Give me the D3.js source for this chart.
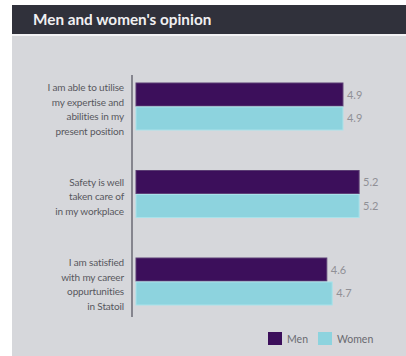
<!DOCTYPE html>
<html>
<head>
<meta charset="utf-8">
<script src="https://cdn.jsdelivr.net/npm/d3@7"></script>
<style>
  html, body { margin: 0; padding: 0; background: #ffffff; }
  svg { display: block; }
</style>
</head>
<body>
<svg id="chart" width="406" height="356"></svg>
<script>
// Survey statements (each drawn as a multi-line label)
const statements = [
  ["I am able to utilise", "my expertise and", "abilities in my", "present position"],
  ["Safety is well", "taken care of", "in my workplace"],
  ["I am satisfied", "with my career", "oppurtunities", "in Statoil"]
];
const groupKeys = ["utilise", "safety", "career"];
const seriesNames = ["Men", "Women"];
const menValues = [4.9, 5.2, 4.6];
const womenValues = [4.9, 5.2, 4.7];

const colors = { Men: "#3c0f5b", Women: "#8dd3de" };

const svg = d3.select("#chart");
const W = 406, H = 356;

// Panel background and title band
svg.append("rect").attr("x", 12).attr("y", 36).attr("width", W - 12).attr("height", H - 36)
  .attr("fill", "#d6d7db");
svg.append("rect").attr("x", 12).attr("y", 5).attr("width", W - 12).attr("height", 29)
  .attr("fill", "#30313b");
svg.append("rect").attr("x", 12).attr("y", 34).attr("width", W - 12).attr("height", 2)
  .attr("fill", "#f2f2f4");
svg.append("text").attr("x", 33).attr("y", 25)
  .attr("font-family", "Lato, 'Open Sans', sans-serif")
  .attr("font-weight", 700)
  .attr("font-size", 15.3)
  .attr("fill", "#f0f0f2")
  .text("Men and women's opinion");

// Scales: the response scale starts at 1
const x = d3.scaleLinear().domain([1, 7]).range([133, 456]);
const y = d3.scaleBand().domain(groupKeys).range([83, 305]).paddingInner(0.463).paddingOuter(0);
const ySub = d3.scaleBand().domain(seriesNames).range([0, y.bandwidth()]).paddingInner(0.04);

// Vertical axis line
svg.append("line")
  .attr("x1", x(1) - 1).attr("x2", x(1) - 1)
  .attr("y1", 75).attr("y2", 317)
  .attr("stroke", "#85858e").attr("stroke-width", 2);

const rows = groupKeys.map((k, i) => ({
  key: k,
  lines: statements[i],
  values: [
    { series: "Men", value: menValues[i] },
    { series: "Women", value: womenValues[i] }
  ]
}));

const g = svg.selectAll("g.group").data(rows).join("g")
  .attr("class", "group")
  .attr("transform", d => `translate(0,${y(d.key)})`);

// Bars
g.selectAll("rect.bar").data(d => d.values).join("rect")
  .attr("class", "bar")
  .attr("x", x(1) + 3)
  .attr("y", d => ySub(d.series))
  .attr("width", d => x(d.value) - x(1) - 3)
  .attr("height", ySub.bandwidth())
  .attr("fill", d => colors[d.series])
  .attr("stroke", d => d.series === "Men" ? "#5b3d74" : "#a9e2ea")
  .attr("stroke-width", 1);

// Value labels
g.selectAll("text.val").data(d => d.values).join("text")
  .attr("class", "val")
  .attr("x", d => x(d.value) + 4)
  .attr("y", d => ySub(d.series) + ySub.bandwidth() / 2 + 4)
  .attr("font-family", "Lato, 'Open Sans', sans-serif")
  .attr("font-size", 11)
  .attr("fill", "#909096")
  .text(d => d.value.toFixed(1));

// Category labels, right aligned next to the axis
g.each(function (d) {
  const lh = 14.7;
  const n = d.lines.length;
  const cy = y.bandwidth() / 2 + 3;
  const t = d3.select(this).append("text")
    .attr("text-anchor", "end")
    .attr("font-family", "Lato, 'Open Sans', sans-serif")
    .attr("font-size", 10)
    .attr("letter-spacing", -0.15)
    .attr("fill", "#58585e");
  d.lines.forEach((line, i) => {
    t.append("tspan")
      .attr("x", 124)
      .attr("y", cy + (i - (n - 1) / 2) * lh + 3.5)
      .text(line);
  });
});

// Legend
const legend = svg.append("g").attr("transform", "translate(268,332)");
const legendX = { Men: 0, Women: 50 };
seriesNames.forEach(s => {
  const lg = legend.append("g").attr("transform", `translate(${legendX[s]},0)`);
  lg.append("rect").attr("width", 14).attr("height", 13)
    .attr("fill", colors[s]);
  lg.append("text").attr("x", 19).attr("y", 10.5)
    .attr("font-family", "Lato, 'Open Sans', sans-serif")
    .attr("font-size", 10.5)
    .attr("fill", "#6a6a70")
    .text(s);
});
</script>
</body>
</html>
